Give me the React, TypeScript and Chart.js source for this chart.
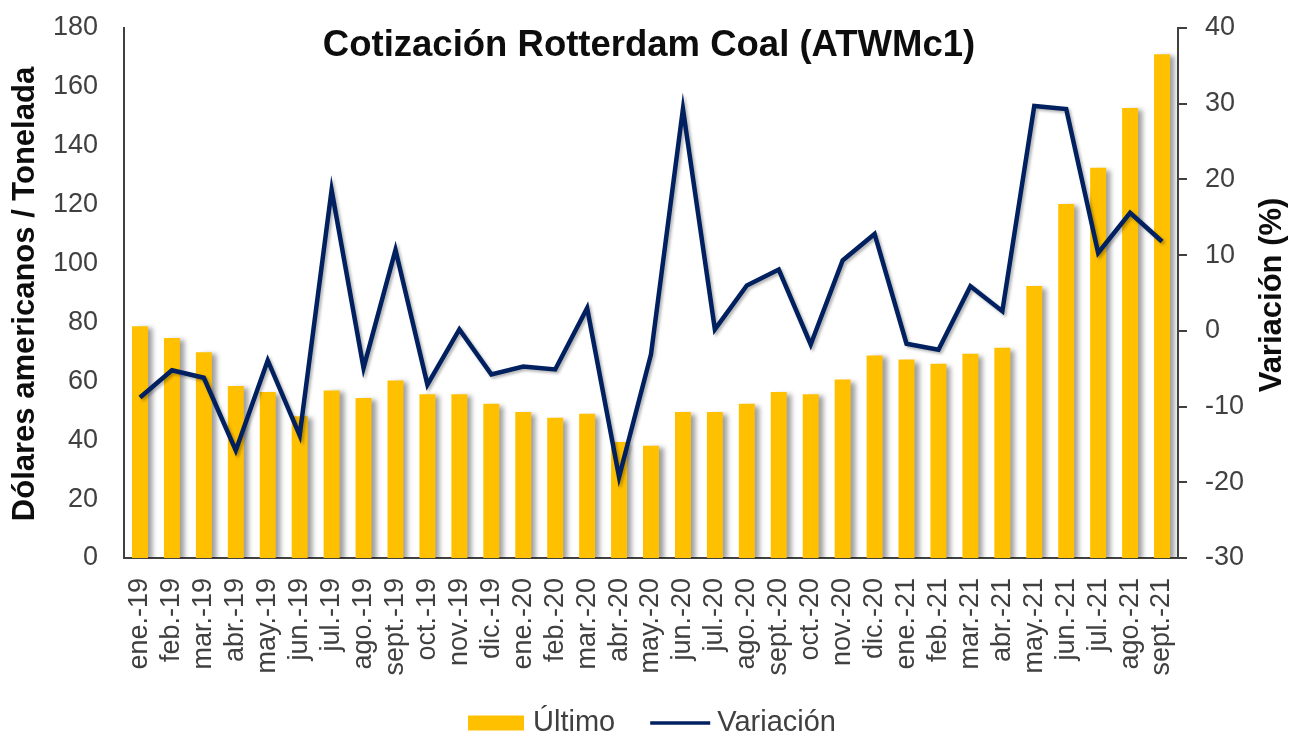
import React, { useEffect, useRef } from "react";
import { Chart, registerables } from "chart.js";

Chart.register(...registerables);

const title = "Cotización Rotterdam Coal (ATWMc1)";
const leftAxisTitle = "Dólares americanos / Tonelada";
const rightAxisTitle = "Variación (%)";

const categories = [
  "ene.-19", "feb.-19", "mar.-19", "abr.-19", "may.-19", "jun.-19", "jul.-19", "ago.-19", "sept.-19", "oct.-19", "nov.-19", "dic.-19",
  "ene.-20", "feb.-20", "mar.-20", "abr.-20", "may.-20", "jun.-20", "jul.-20", "ago.-20", "sept.-20", "oct.-20", "nov.-20", "dic.-20",
  "ene.-21", "feb.-21", "mar.-21", "abr.-21", "may.-21", "jun.-21", "jul.-21", "ago.-21", "sept.-21",
];

const ultimo = [
  78.7, 74.7, 69.9, 58.4, 56.4, 48.1, 56.9, 54.3, 60.3, 55.6, 55.6, 52.4,
  49.6, 47.6, 49.0, 39.4, 38.1, 49.6, 49.6, 52.4, 56.4, 55.6, 60.6, 68.8,
  67.4, 66.0, 69.4, 71.4, 92.4, 120.2, 132.5, 152.8, 171.1,
];

const variacion = [
  -8.8, -5.2, -6.2, -15.8, -3.9, -13.8, 18.6, -4.9, 10.7, -7.1, 0.2, -5.75,
  -4.7, -5.1, 3.0, -19.3, -3.1, 29.3, 0.2, 6.0, 8.1, -1.8, 9.3, 12.8,
  -1.7, -2.5, 5.9, 2.6, 29.7, 29.3, 10.3, 15.6, 11.8,
];

const seriesNames = ["Último", "Variación"];

const GOLD = "#FFC000";
const NAVY = "#002060";
const TEXT = "#404040";
const FONT = '"Liberation Sans", Arial, sans-serif';

const shadowPlugin = {
  id: "shadowPlugin",
  beforeDatasetDraw(chart: any, args: any) {
    const ctx = chart.ctx;
    ctx.save();
    if (args.index === 0) {
      ctx.shadowColor = "rgba(0,0,0,0.38)";
      ctx.shadowOffsetX = 5;
      ctx.shadowOffsetY = 2;
      ctx.shadowBlur = 5;
    } else {
      ctx.shadowColor = "rgba(0,0,0,0.3)";
      ctx.shadowOffsetX = 2;
      ctx.shadowOffsetY = 2;
      ctx.shadowBlur = 3;
    }
  },
  afterDatasetDraw(chart: any) {
    chart.ctx.restore();
  },
};

const textPlugin = {
  id: "textPlugin",
  afterDraw(chart: any) {
    const { ctx, chartArea } = chart;
    ctx.save();
    // title
    ctx.fillStyle = "#0d0d0d";
    ctx.font = `bold 36.5px ${FONT}`;
    ctx.textAlign = "center";
    ctx.textBaseline = "middle";
    ctx.fillText(title, (chartArea.left + chartArea.right) / 2 - 2, 46);

    // axis titles
    ctx.font = `bold 31px ${FONT}`;
    ctx.save();
    ctx.translate(25, 294);
    ctx.rotate(-Math.PI / 2);
    ctx.fillText(leftAxisTitle, 0, 0);
    ctx.restore();
    ctx.save();
    ctx.translate(1272, 295);
    ctx.rotate(-Math.PI / 2);
    ctx.fillText(rightAxisTitle, 0, 0);
    ctx.restore();

    // legend
    ctx.font = `29px ${FONT}`;
    ctx.textAlign = "left";
    ctx.textBaseline = "middle";
    const ds = chart.data.datasets;
    const boxW = 56, boxH = 15, gapBox = 9, gapItem = 35, lineW = 60, gapLine = 7;
    const w1 = ctx.measureText(ds[0].label).width;
    const w2 = ctx.measureText(ds[1].label).width;
    const total = boxW + gapBox + w1 + gapItem + lineW + gapLine + w2;
    let x = 652 - total / 2;
    const cy = 723;
    ctx.fillStyle = ds[0].backgroundColor;
    ctx.fillRect(x, cy - boxH / 2, boxW, boxH);
    x += boxW + gapBox;
    ctx.fillStyle = TEXT;
    ctx.fillText(ds[0].label, x, cy);
    x += w1 + gapItem;
    ctx.strokeStyle = ds[1].borderColor;
    ctx.lineWidth = 3.5;
    ctx.beginPath();
    ctx.moveTo(x, cy);
    ctx.lineTo(x + lineW, cy);
    ctx.stroke();
    x += lineW + gapLine;
    ctx.fillStyle = TEXT;
    ctx.fillText(ds[1].label, x, cy);
    ctx.restore();
  },
};

export default function App() {
  const canvasRef = useRef<HTMLCanvasElement | null>(null);

  useEffect(() => {
    if (!canvasRef.current) return;
    const chart = new Chart(canvasRef.current, {
      type: "bar",
      data: {
        labels: categories,
        datasets: [
          {
            type: "bar",
            label: seriesNames[0],
            data: ultimo,
            backgroundColor: GOLD,
            borderWidth: 0,
            barPercentage: 0.5,
            categoryPercentage: 1,
            yAxisID: "y",
            order: 2,
          },
          {
            type: "line",
            label: seriesNames[1],
            data: variacion,
            borderColor: NAVY,
            backgroundColor: NAVY,
            borderWidth: 4.5,
            pointRadius: 0,
            tension: 0,
            yAxisID: "y1",
            order: 1,
          } as any,
        ],
      },
      options: {
        responsive: false,
        maintainAspectRatio: false,
        animation: false,
        layout: { padding: { top: 28, left: 0, right: 0, bottom: 0 } },
        plugins: {
          legend: { display: false },
          title: { display: false },
          tooltip: { enabled: false },
        },
        scales: {
          x: {
            grid: { display: false },
            border: { display: true, color: TEXT, width: 2 },
            ticks: {
              autoSkip: false,
              maxRotation: 90,
              minRotation: 90,
              padding: 12,
              color: TEXT,
              font: { family: FONT, size: 27 },
            },
            afterFit: (scale: any) => {
              scale.height = 178;
              scale.paddingTop = 0;
              scale.paddingBottom = 0;
            },
          },
          y: {
            position: "left",
            min: 0,
            max: 180,
            ticks: {
              stepSize: 20,
              padding: 18,
              color: TEXT,
              font: { family: FONT, size: 27 },
            },
            grid: { display: false },
            border: { display: true, color: TEXT, width: 2 },
            afterFit: (scale: any) => {
              scale.width = 124;
              scale.paddingTop = 0;
              scale.paddingBottom = 0;
            },
          },
          y1: {
            position: "right",
            min: -30,
            max: 40,
            ticks: {
              stepSize: 10,
              padding: 18,
              color: TEXT,
              font: { family: FONT, size: 27 },
            },
            grid: {
              display: true,
              drawOnChartArea: false,
              drawTicks: true,
              tickLength: 9,
              color: TEXT,
              lineWidth: 2,
            },
            border: { display: true, color: TEXT, width: 2 },
            afterFit: (scale: any) => {
              scale.width = 116;
              scale.paddingTop = 0;
              scale.paddingBottom = 0;
            },
          },
        },
      },
      plugins: [shadowPlugin, textPlugin],
    });
    return () => chart.destroy();
  }, []);

  return (
    <div style={{ position: "fixed", left: 0, top: 0, width: 1294, height: 736, background: "#fff" }}>
      <canvas ref={canvasRef} width={1294} height={736} style={{ display: "block" }} />
    </div>
  );
}
